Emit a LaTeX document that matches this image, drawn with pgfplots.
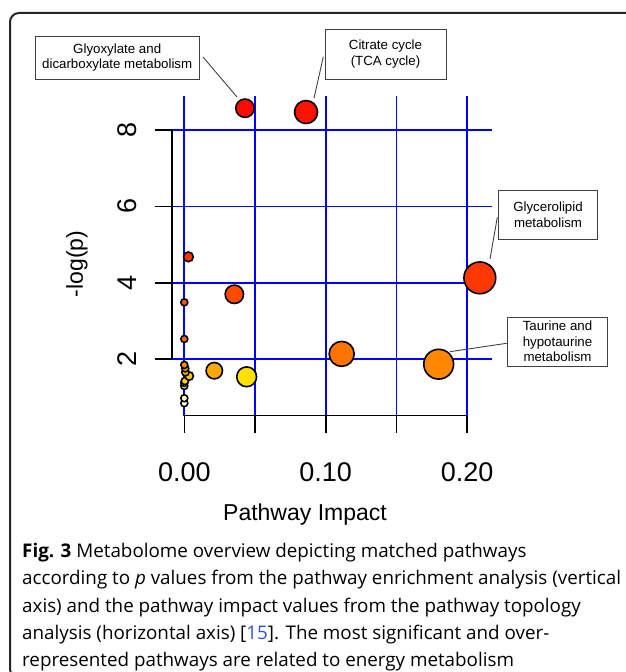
\documentclass[border=0pt]{standalone}
\usepackage{pgfplots}
\pgfplotsset{compat=1.18}
\usepackage{fontspec}
\setmainfont{Liberation Sans}
\newfontfamily\capfont{Open Sans}

\definecolor{c01}{HTML}{FF0A00}
\definecolor{c02}{HTML}{FF1200}
\definecolor{c03}{HTML}{FF3300}
\definecolor{c04}{HTML}{FF3800}
\definecolor{c05}{HTML}{FF4A00}
\definecolor{c06}{HTML}{FF5500}
\definecolor{c07}{HTML}{FF6A00}
\definecolor{c08}{HTML}{FF7400}
\definecolor{c09}{HTML}{FF8800}
\definecolor{c10}{HTML}{FF9000}
\definecolor{c11}{HTML}{FFA000}
\definecolor{c12}{HTML}{FFA800}
\definecolor{c13}{HTML}{FFB500}
\definecolor{c14}{HTML}{FFC800}
\definecolor{c15}{HTML}{FFE000}
\definecolor{c16}{HTML}{FFD500}
\definecolor{c17}{HTML}{FFEE60}
\definecolor{c18}{HTML}{FFF6A0}
\definecolor{c19}{HTML}{FFFFC0}
\definecolor{c20}{HTML}{FFFFE8}
\definecolor{linkblue}{HTML}{3355CC}

% one bubble: x, y, radius, fill
\newcommand{\bub}[4]{\addplot[only marks, mark=*, mark size=#3,
  mark options={fill=#4, draw=black, line width=1.6pt}] coordinates {(#1,#2)};}

\begin{document}
\begin{tikzpicture}[x=1pt,y=1pt]
\useasboundingbox (0,0) rectangle (625,672);
\draw[line width=2pt, color=black!85, rounded corners=9pt] (10,659) rectangle (700,-6);

\begin{axis}[
  at={(172pt,256.3pt)}, anchor=south west,
  scale only axis, width=319.7pt, height=319.7pt,
  xmin=-0.0087, xmax=0.2174, ymin=0.522, ymax=8.89,
  axis line style={draw=none},
  xtick={0,0.05,0.1,0.15,0.2}, ytick={2,4,6,8},
  xticklabels={}, yticklabels={},
  xtick pos=lower, ytick pos=left,
  tick align=outside, major tick length=17.3pt,
  tick style={black, line width=1.6pt},
  grid=major, major grid style={blue, line width=1.8pt},
  clip=false,
]
\draw[line width=1.6pt] (axis cs:0,0.522) -- (axis cs:0.2,0.522);
\draw[line width=1.6pt] (axis cs:-0.0087,2) -- (axis cs:-0.0087,8);

\bub{0}{0.85}{3.5}{c20}
\bub{0}{0.98}{3.5}{c19}
\bub{0}{1.30}{3.5}{c18}
\bub{0}{1.38}{3.5}{c17}
\bub{0.0004}{1.43}{3.6}{c16}
\bub{0.0035}{1.56}{4.2}{c14}
\bub{0.0008}{1.66}{3.7}{c13}
\bub{0.0007}{1.76}{3.5}{c11}
\bub{0}{1.85}{3.5}{c10}
\bub{0}{2.53}{3.5}{c07}
\bub{0}{3.49}{3.5}{c06}
\bub{0.0029}{4.68}{4.9}{c03}
\bub{0.0212}{1.70}{8.2}{c12}
\bub{0.0354}{3.70}{9.2}{c05}
\bub{0.0441}{1.54}{9.9}{c15}
\bub{0.0429}{8.57}{9.2}{c01}
\bub{0.0861}{8.47}{11.5}{c02}
\bub{0.1113}{2.14}{12.5}{c08}
\bub{0.1799}{1.87}{14.9}{c09}
\bub{0.2090}{4.13}{15.9}{c04}
\end{axis}

% tick labels and axis titles
\begin{scope}[font=\fontsize{27}{30}\selectfont]
\node at (184.3,200) {0.00};
\node at (325.7,200) {0.10};
\node at (467.1,200) {0.20};
\node[rotate=90] at (127,542) {8};
\node[rotate=90] at (127,465.7) {6};
\node[rotate=90] at (127,389.3) {4};
\node[rotate=90] at (127,312.8) {2};
\end{scope}
\node[font=\fontsize{23}{26}\selectfont] at (305,157) {Pathway Impact};
\node[font=\fontsize{23}{26}\selectfont, rotate=90] at (77,408) {-log(p)};

% annotation boxes
\begin{scope}[draw=black!75, line width=0.9pt]
\draw (35,635.3) rectangle (199.3,593);
\draw (325,642.7) rectangle (446,593);
\draw (498.3,481.3) rectangle (597.5,432.7);
\draw (507.7,354.7) rectangle (607.3,306);
\draw (203,615) -- (237,575);
\draw (323.3,615.3) -- (314,573.7);
\draw (490,413) -- (497.3,454.7);
\draw (450,320.3) -- (506.7,328.7);
\end{scope}
\begin{scope}[font=\fontsize{13.3}{15.5}\selectfont, align=center]
\node at (117.2,614.2) {Glyoxylate and\\dicarboxylate metabolism};
\node at (385.5,617.8) {Citrate cycle\\(TCA cycle)};
\node at (548,457) {Glycerolipid\\metabolism};
\node at (557.5,330.4) {Taurine and\\hypotaurine\\metabolism};
\end{scope}

% caption
\node[anchor=north west, align=left, inner sep=0pt,
  font=\capfont\fontsize{18.8}{27.3}\selectfont] at (22,129) {%
\textbf{Fig. 3} Metabolome overview depicting matched pathways\\
according to \textit{p} values from the pathway enrichment analysis (vertical\\
axis) and the pathway impact values from the pathway topology\\
analysis (horizontal axis) [{\color{linkblue}15}]. The most significant and over-\\
represented pathways are related to energy metabolism};
\end{tikzpicture}
\end{document}
